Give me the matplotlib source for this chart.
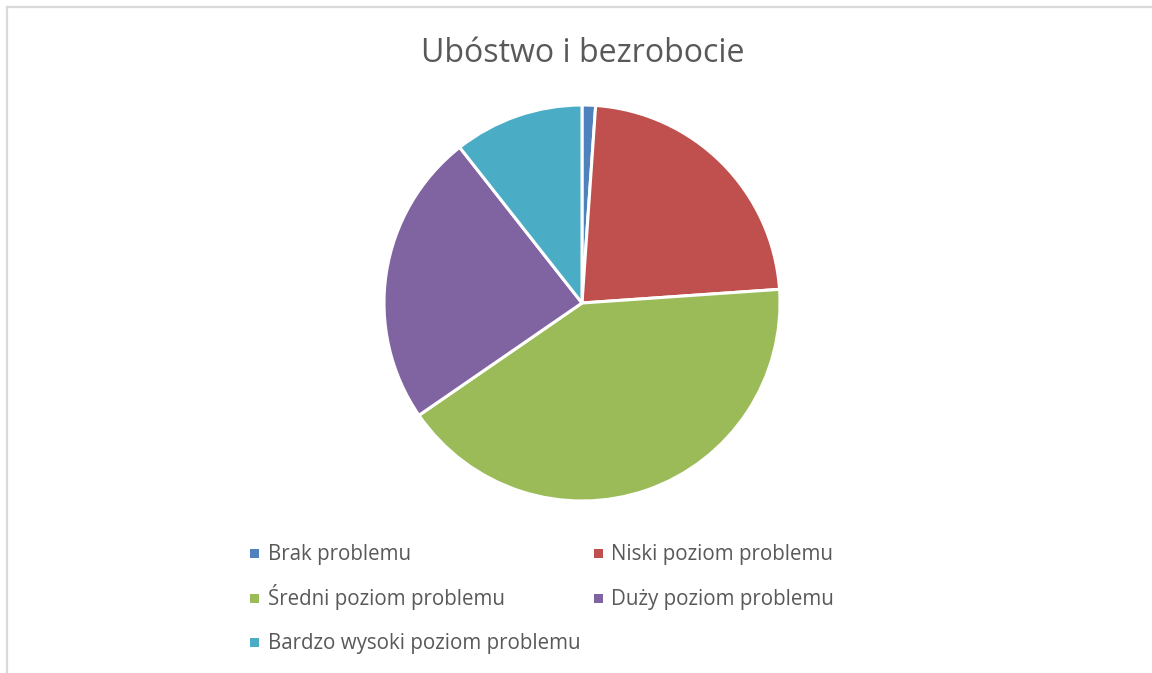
import matplotlib
matplotlib.use("Agg")
import matplotlib.pyplot as plt
from matplotlib.patches import Rectangle
from matplotlib.lines import Line2D

labels = ["Brak problemu", "Niski poziom problemu", "Średni poziom problemu",
          "Duży poziom problemu", "Bardzo wysoki poziom problemu"]
values = [1.1, 22.8, 41.5, 24.0, 10.6]
colors = ["#4F81BD", "#C0504D", "#9BBB59", "#8064A2", "#4BACC6"]
title = "Ubóstwo i bezrobocie"

W, H = 1152, 673
fig = plt.figure(figsize=(W / 100, H / 100), dpi=100)
fig.patch.set_facecolor("white")

def fx(x):
    return x / W

def fy(y):
    return 1 - y / H

# chart border
fig.add_artist(Line2D([fx(6.5), fx(1152)], [fy(6.5), fy(6.5)], color="#D9D9D9", lw=1.6))
fig.add_artist(Line2D([fx(6.5), fx(6.5)], [fy(6.5), fy(673)], color="#D9D9D9", lw=1.6))

# pie
cx, cy, r = 582, 303, 198
ax = fig.add_axes([fx(cx - r), fy(cy + r), 2 * r / W, 2 * r / H])
ax.pie(values, colors=colors, startangle=90, counterclock=False, radius=1,
       wedgeprops=dict(edgecolor="white", linewidth=2.2))
ax.set_xlim(-1.0, 1.0)
ax.set_ylim(-1.0, 1.0)
ax.set_aspect("equal")
ax.axis("off")

fig.text(fx(583), fy(62), title, ha="center", va="baseline", fontsize=23.1,
         color="#595959", family="Open Sans")

# legend (row-major, 2 columns)
col_x = [254.5, 598]
row_base = [560, 605, 649]
for i, (lab, col) in enumerate(zip(labels, colors)):
    rr, cc = divmod(i, 2)
    x0, yb = col_x[cc], row_base[rr]
    yc = yb - 6.5
    fig.add_artist(Rectangle((fx(x0 - 4.5), fy(yc + 4.5)), 9 / W, 9 / H,
                             facecolor=col, edgecolor="none", transform=fig.transFigure))
    fig.text(fx(x0 + 13), fy(yb), lab, ha="left", va="baseline", fontsize=14.8,
             color="#595959", family="Open Sans")

fig.savefig("out.png", dpi=100, facecolor="white")
